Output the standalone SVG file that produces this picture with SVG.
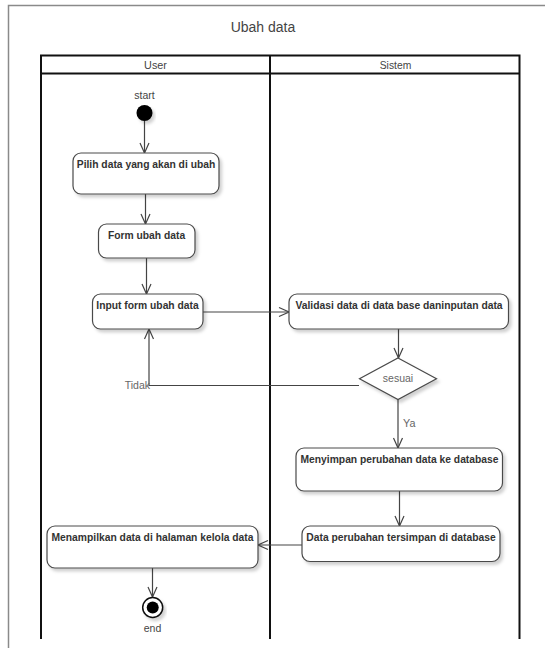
<svg xmlns="http://www.w3.org/2000/svg" width="545" height="648" viewBox="0 0 545 648">
  <style>
    .frame { fill: #ffffff; stroke: #8a8a8a; stroke-width: 1.5; }
    .lane { fill: none; stroke: #111111; stroke-width: 2; }
    .act { fill: #ffffff; stroke: #4a4a4a; stroke-width: 1.2; filter: url(#shadow); }
    .dec { fill: #ffffff; stroke: #4a4a4a; stroke-width: 1.2; filter: url(#shadow); }
    .label { font-family: "Liberation Sans", Arial, sans-serif; font-size: 10.3px; font-weight: bold; fill: #333333; text-anchor: middle; }
    .plain { font-family: "Liberation Sans", Arial, sans-serif; fill: #444444; }
    .soft { font-family: "Liberation Sans", Arial, sans-serif; fill: #666666; }
    .edge { fill: none; stroke: #444444; stroke-width: 1.2; marker-end: url(#open); }
  </style>
  <defs>
    <filter id="shadow" x="-10%" y="-20%" width="130%" height="160%">
      <feDropShadow dx="2.5" dy="3" stdDeviation="1.5" flood-color="#000000" flood-opacity="0.18"/>
    </filter>
    <marker id="open" viewBox="0 0 12 12" refX="11" refY="6" markerWidth="12" markerHeight="12" markerUnits="userSpaceOnUse" orient="auto">
      <path d="M1,1.5 L11,6 L1,10.5" fill="none" stroke="#444444" stroke-width="1.2"/>
    </marker>
  </defs>

  <rect width="545" height="648" fill="#ffffff"/>
  <!-- outer frame -->
  <rect class="frame" x="8.5" y="5.5" width="560" height="670"/>

  <text class="plain" x="263" y="32" font-size="14" text-anchor="middle">Ubah data</text>

  <!-- swimlanes -->
  <g id="lanes">
    <path class="lane" d="M41,639 V55.5 H519.5 V639"/>
    <path class="lane" d="M41,73.5 H519.5"/>
    <path class="lane" d="M270,55.5 V639"/>
    <text class="plain" x="155.5" y="69" font-size="10.8" text-anchor="middle">User</text>
    <text class="plain" x="395.5" y="69" font-size="10.3" text-anchor="middle">Sistem</text>
  </g>

  <!-- connectors -->
  <g id="connectors">
    <path class="edge" d="M144.5,121 V153"/>
    <path class="edge" d="M145.5,194 V224"/>
    <path class="edge" d="M146.5,258 V294"/>
    <path class="edge" d="M203,312 H289"/>
    <path class="edge" d="M398.5,329 V358"/>
    <path class="edge" d="M359,385.5 H149 V329"/>
    <path class="edge" d="M398,399 V448"/>
    <path class="edge" d="M399.5,491 V526"/>
    <path class="edge" d="M302,545 H258"/>
    <path class="edge" d="M152.5,568 V597"/>
    <text class="soft" x="150" y="388.5" font-size="10.5" text-anchor="end">Tidak</text>
    <text class="soft" x="403" y="427" font-size="10.8">Ya</text>
  </g>

  <!-- nodes -->
  <g id="start">
    <text class="plain" x="144.5" y="99" font-size="10.5" text-anchor="middle">start</text>
    <circle cx="144.5" cy="113" r="8" fill="#000000" filter="url(#shadow)"/>
  </g>

  <g id="pilih-data">
    <rect class="act" x="73" y="153" width="146" height="41" rx="8"/>
    <text class="label" x="146" y="168">Pilih data yang akan di ubah</text>
  </g>

  <g id="form-ubah">
    <rect class="act" x="98.5" y="224" width="96.5" height="34" rx="8"/>
    <text class="label" x="146.5" y="239">Form ubah data</text>
  </g>

  <g id="input-form">
    <rect class="act" x="92.5" y="294" width="110.5" height="35" rx="8"/>
    <text class="label" x="147.5" y="309">Input form ubah data</text>
  </g>

  <g id="validasi">
    <rect class="act" x="289" y="294" width="219.5" height="35" rx="8"/>
    <text class="label" x="399" y="309">Validasi data di data base daninputan data</text>
  </g>

  <g id="sesuai">
    <polygon class="dec" points="398,358 436.5,378.7 398,399.5 359.5,378.7"/>
    <text class="soft" x="398" y="382" font-size="10.5" text-anchor="middle">sesuai</text>
  </g>

  <g id="menyimpan">
    <rect class="act" x="296" y="448" width="206.5" height="43" rx="8"/>
    <text class="label" x="399.5" y="463">Menyimpan perubahan data ke database</text>
  </g>

  <g id="tersimpan">
    <rect class="act" x="302" y="526" width="198" height="35.5" rx="8"/>
    <text class="label" x="401" y="541">Data perubahan tersimpan di database</text>
  </g>

  <g id="menampilkan">
    <rect class="act" x="47" y="526" width="211" height="42" rx="8"/>
    <text class="label" x="152.5" y="541">Menampilkan data di halaman kelola data</text>
  </g>

  <g id="end">
    <circle cx="152.7" cy="607.5" r="10" fill="#ffffff" stroke="#111111" stroke-width="1.5" filter="url(#shadow)"/>
    <circle cx="152.7" cy="607.5" r="6" fill="#000000"/>
    <text class="plain" x="152.5" y="632" font-size="10.5" text-anchor="middle">end</text>
  </g>
</svg>
